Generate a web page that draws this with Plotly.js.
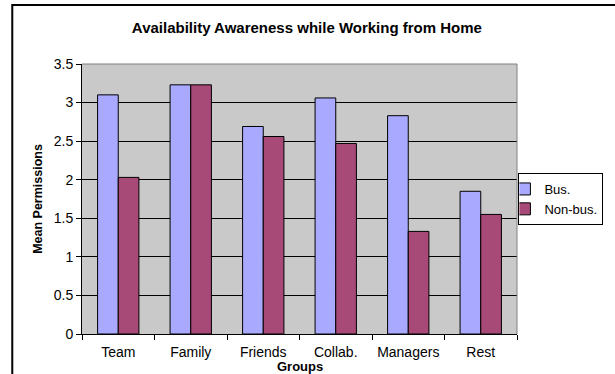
<!DOCTYPE html>
<html>
<head>
<meta charset="utf-8">
<script src="https://cdn.plot.ly/plotly-3.0.1.min.js"></script>
<style>
  html, body { margin: 0; padding: 0; background: #ffffff; }
  #chart { width: 615px; height: 374px; }
</style>
</head>
<body>
<div id="chart"></div>
<script>
// ---- data ----
var categories = ["Team", "Family", "Friends", "Collab.", "Managers", "Rest"];
var busValues = [3.10, 3.23, 2.69, 3.06, 2.83, 1.85];
var nonBusValues = [2.03, 3.23, 2.56, 2.47, 1.33, 1.55];
var seriesNames = ["Bus.", "Non-bus."];
var yTickValues = [0, 0.5, 1, 1.5, 2, 2.5, 3, 3.5];
var yTickLabels = ["0", "0.5", "1", "1.5", "2", "2.5", "3", "3.5"];
var xAxisTitle = "Groups";

// ---- layout geometry (pixels) ----
var W = 615, H = 374;
var mL = 82, mR = 90, mT = 64, mB = 40;
var plotW = W - mL - mR, plotH = H - mT - mB;
function px2x(p) { return (p - mL) / plotW; }
function py2y(p) { return (H - mB - p) / plotH; }

var FONT = "Arial, 'Liberation Sans', sans-serif";

var traces = [
  {
    type: "bar",
    name: seriesNames[0],
    x: categories,
    y: busValues,
    marker: { color: "#A9A9FF", line: { color: "#000000", width: 1 } }
  },
  {
    type: "bar",
    name: seriesNames[1],
    x: categories,
    y: nonBusValues,
    marker: { color: "#A84A78", line: { color: "#000000", width: 1 } }
  }
];

var layout = {
  width: W,
  height: H,
  margin: { l: mL, r: mR, t: mT, b: mB, pad: 0 },
  paper_bgcolor: "#ffffff",
  plot_bgcolor: "#C9C9C9",
  font: { family: FONT, size: 12, color: "#000000" },
  barmode: "group",
  bargap: 0.43,
  bargroupgap: 0,
  title: {
    text: "<b>Availability Awareness while Working from Home</b>",
    font: { family: FONT, size: 15, color: "#000000" },
    x: 318 / W,
    xanchor: "center",
    xref: "paper",
    y: 1 - 28 / H,
    yanchor: "middle"
  },
  xaxis: {
    type: "category",
    showline: true,
    linecolor: "#000000",
    linewidth: 1,
    ticks: "outside",
    tickson: "boundaries",
    ticklen: 5,
    tickcolor: "#000000",
    tickfont: { family: FONT, size: 14, color: "#000000" },
    ticklabelstandoff: 5,
    showgrid: false,
    zeroline: false,
    automargin: false
  },
  yaxis: {
    range: [0, 3.5],
    tickvals: yTickValues,
    ticktext: yTickLabels,
    showline: true,
    linecolor: "#000000",
    linewidth: 1,
    ticks: "outside",
    ticklen: 5,
    tickcolor: "#000000",
    tickfont: { family: FONT, size: 14, color: "#000000" },
    showgrid: true,
    gridcolor: "#000000",
    gridwidth: 1,
    zeroline: false,
    automargin: false,
    title: {
      text: "<b>Mean Permissions</b>",
      font: { family: FONT, size: 12.5, color: "#000000" },
      standoff: 8
    }
  },
  annotations: [
    {
      text: "<b>" + xAxisTitle + "</b>",
      xref: "paper", yref: "paper",
      x: 0.5, xanchor: "center",
      y: py2y(375), yanchor: "bottom",
      showarrow: false,
      borderpad: 0,
      font: { family: FONT, size: 13, color: "#000000" }
    }
  ],
  showlegend: true,
  legend: {
    x: px2x(613),
    xanchor: "right",
    y: 0.5,
    yanchor: "middle",
    bgcolor: "#ffffff",
    bordercolor: "#000000",
    borderwidth: 1,
    font: { family: FONT, size: 13, color: "#000000" },
    itemwidth: 30,
    indentation: -15,
    tracegroupgap: 0
  },
  shapes: [
    // outer chart border (runs off the right and bottom of the picture)
    {
      type: "rect", xref: "paper", yref: "paper",
      x0: px2x(11), x1: px2x(W + 20),
      y0: py2y(H + 20), y1: py2y(5),
      line: { color: "#000000", width: 2 },
      fillcolor: "rgba(0,0,0,0)",
      layer: "above"
    },
    // plot-area top and right edge (gray)
    {
      type: "line", xref: "paper", yref: "paper",
      x0: 0, x1: 1, y0: 1, y1: 1,
      line: { color: "#808080", width: 1 }, layer: "above"
    },
    {
      type: "line", xref: "paper", yref: "paper",
      x0: 1, x1: 1, y0: 0, y1: 1,
      line: { color: "#808080", width: 1 }, layer: "above"
    }
  ]
};

Plotly.newPlot("chart", traces, layout, { displayModeBar: false, staticPlot: true });
</script>
</body>
</html>
